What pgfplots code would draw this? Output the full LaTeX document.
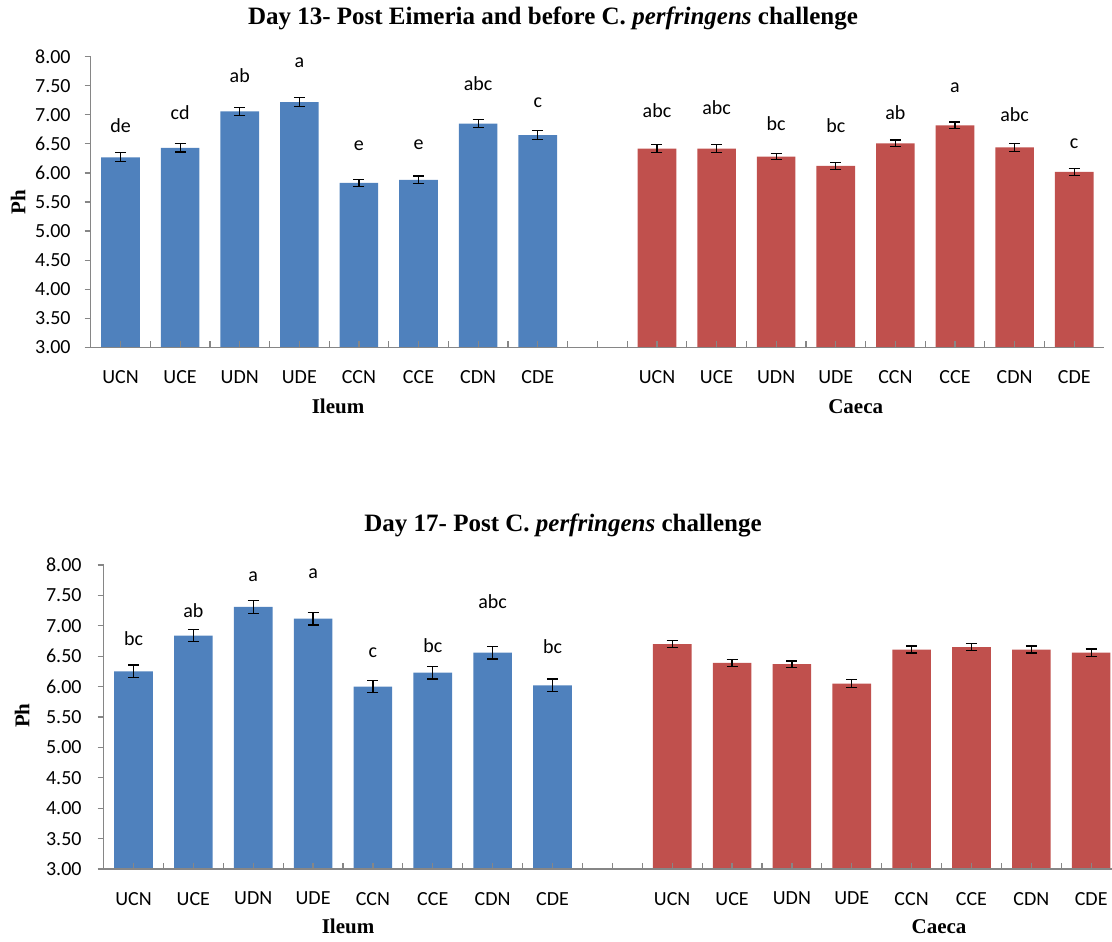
\documentclass[border=0pt]{standalone}
\usepackage{pgfplots}
\pgfplotsset{compat=1.18}
\usepackage{pgfplotstable}
\usepackage{fontspec}
\setmainfont{Carlito}
\newfontfamily\timesf{Liberation Serif}
\definecolor{barblue}{HTML}{4F81BD}
\definecolor{barred}{HTML}{C0504D}
\definecolor{axgray}{HTML}{868686}

% top panel (Day 13)
\pgfplotstableread{
x y e
0 6.27 0.075
1 6.43 0.07
2 7.06 0.065
3 7.22 0.075
4 5.83 0.063
5 5.88 0.066
6 6.85 0.07
7 6.65 0.077
}\topileum
\pgfplotstableread{
x y e
9 6.42 0.066
10 6.42 0.066
11 6.28 0.055
12 6.12 0.057
13 6.51 0.057
14 6.82 0.055
15 6.44 0.066
16 6.02 0.063
}\topcaeca
\pgfplotstableread{
x y lab
0 6.81 de
1 7.03 cd
2 7.67 ab
3 7.89 a
4 6.47 e
5 6.49 e
6 7.54 abc
7 7.20 c
9 7.08 abc
10 7.12 abc
11 6.85 bc
12 6.81 bc
13 7.04 ab
14 7.47 a
15 7.00 abc
16 6.51 c
}\toplab

% bottom panel (Day 17)
\pgfplotstableread{
x y e
0 6.25 0.105
1 6.84 0.096
2 7.31 0.104
3 7.12 0.105
4 6.00 0.100
5 6.23 0.104
6 6.56 0.105
7 6.02 0.104
}\botileum
\pgfplotstableread{
x y e
9 6.70 0.06
10 6.39 0.06
11 6.37 0.052
12 6.05 0.062
13 6.61 0.058
14 6.65 0.06
15 6.61 0.058
16 6.56 0.06
}\botcaeca
\pgfplotstableread{
x y lab
0 6.79 bc
1 7.25 ab
2 7.81 a
3 7.85 a
4 6.56 c
5 6.67 bc
6 7.39 abc
7 6.66 bc
}\botlab

\pgfplotsset{
  phstyle/.style={
    scale only axis,
    anchor=south west,
    xmin=-0.5, ymin=3, ymax=8,
    axis x line=bottom, axis y line=left,
    axis line style={-, draw=axgray, line width=0.6pt},
    axis on top,
    tick align=inside,
    tick style={axgray, line width=0.6pt},
    major tick length=3pt, minor tick length=3pt,
    ytick={3,3.5,4,4.5,5,5.5,6,6.5,7,7.5,8},
    ytick style={xshift=-3pt},
    /pgf/number format/assume math mode=true,
    yticklabel style={/pgf/number format/fixed, /pgf/number format/fixed zerofill, /pgf/number format/precision=2},
    xtick={0,...,16},
    minor x tick num=1,
    xticklabels={UCN,UCE,UDN,UDE,CCN,CCE,CDN,CDE,{},UCN,UCE,UDN,UDE,CCN,CCE,CDN,CDE},
    ticklabel style={font=\fontsize{10}{12}\selectfont, text=black},
    xticklabel style={yshift=-8pt},
  },
  barstyle/.style={
    ybar, bar width=19.3pt, bar shift=0pt, draw=none, fill=#1,
    error bars/.cd, y dir=both, y explicit,
    error bar style={black, line width=0.6pt},
    error mark options={black, rotate=90, mark size=2.75pt, line width=0.6pt},
  },
  labstyle/.style={
    only marks, mark=*, mark size=0pt, mark options={draw=none, fill=none},
    nodes near coords, point meta=explicit symbolic,
    nodes near coords align={anchor=center},
    every node near coord/.append style={font=\fontsize{10}{12}\selectfont, text=black, anchor=center, inner sep=0pt},
  },
}

\begin{document}
\begin{tikzpicture}
\useasboundingbox (0,0) rectangle (556pt,-470.5pt);

\begin{axis}[phstyle, at={(45.35pt,-173.65pt)}, width=506.65pt, height=145.3pt, xmax=16.5,
  yticklabel style={xshift=-6.5pt}]
\addplot[barstyle=barblue] table[x=x, y=y, y error=e] {\topileum};
\addplot[barstyle=barred] table[x=x, y=y, y error=e] {\topcaeca};
\addplot[labstyle] table[x=x, y=y, meta=lab] {\toplab};
\end{axis}

\begin{axis}[phstyle, at={(51.8pt,-434.5pt)}, width=504.25pt, height=152pt, xmax=16.35,
  yticklabel style={xshift=-7.5pt}]
\addplot[barstyle=barblue] table[x=x, y=y, y error=e] {\botileum};
\addplot[barstyle=barred] table[x=x, y=y, y error=e] {\botcaeca};
\addplot[labstyle] table[x=x, y=y, meta=lab] {\botlab};
\end{axis}

\node[font=\timesf\bfseries\fontsize{12.5}{15}\selectfont] at (276.5pt,-9pt) {Day 13- Post Eimeria and before C. \textit{perfringens} challenge};
\node[font=\timesf\bfseries\fontsize{12.5}{15}\selectfont] at (281.5pt,-262.5pt) {Day 17- Post C. \textit{perfringens} challenge};

\node[rotate=90, font=\timesf\bfseries\fontsize{10.5}{12}\selectfont] at (9pt,-101pt) {Ph};
\node[rotate=90, font=\timesf\bfseries\fontsize{10.5}{12}\selectfont] at (11pt,-357.8pt) {Ph};

\node[font=\timesf\bfseries\fontsize{10.5}{12}\selectfont] at (169pt,-203.35pt) {Ileum};
\node[font=\timesf\bfseries\fontsize{10.5}{12}\selectfont] at (427.85pt,-203.35pt) {Caeca};
\node[font=\timesf\bfseries\fontsize{10.5}{12}\selectfont] at (174pt,-463.35pt) {Ileum};
\node[font=\timesf\bfseries\fontsize{10.5}{12}\selectfont] at (469.5pt,-463.35pt) {Caeca};
\end{tikzpicture}
\end{document}
